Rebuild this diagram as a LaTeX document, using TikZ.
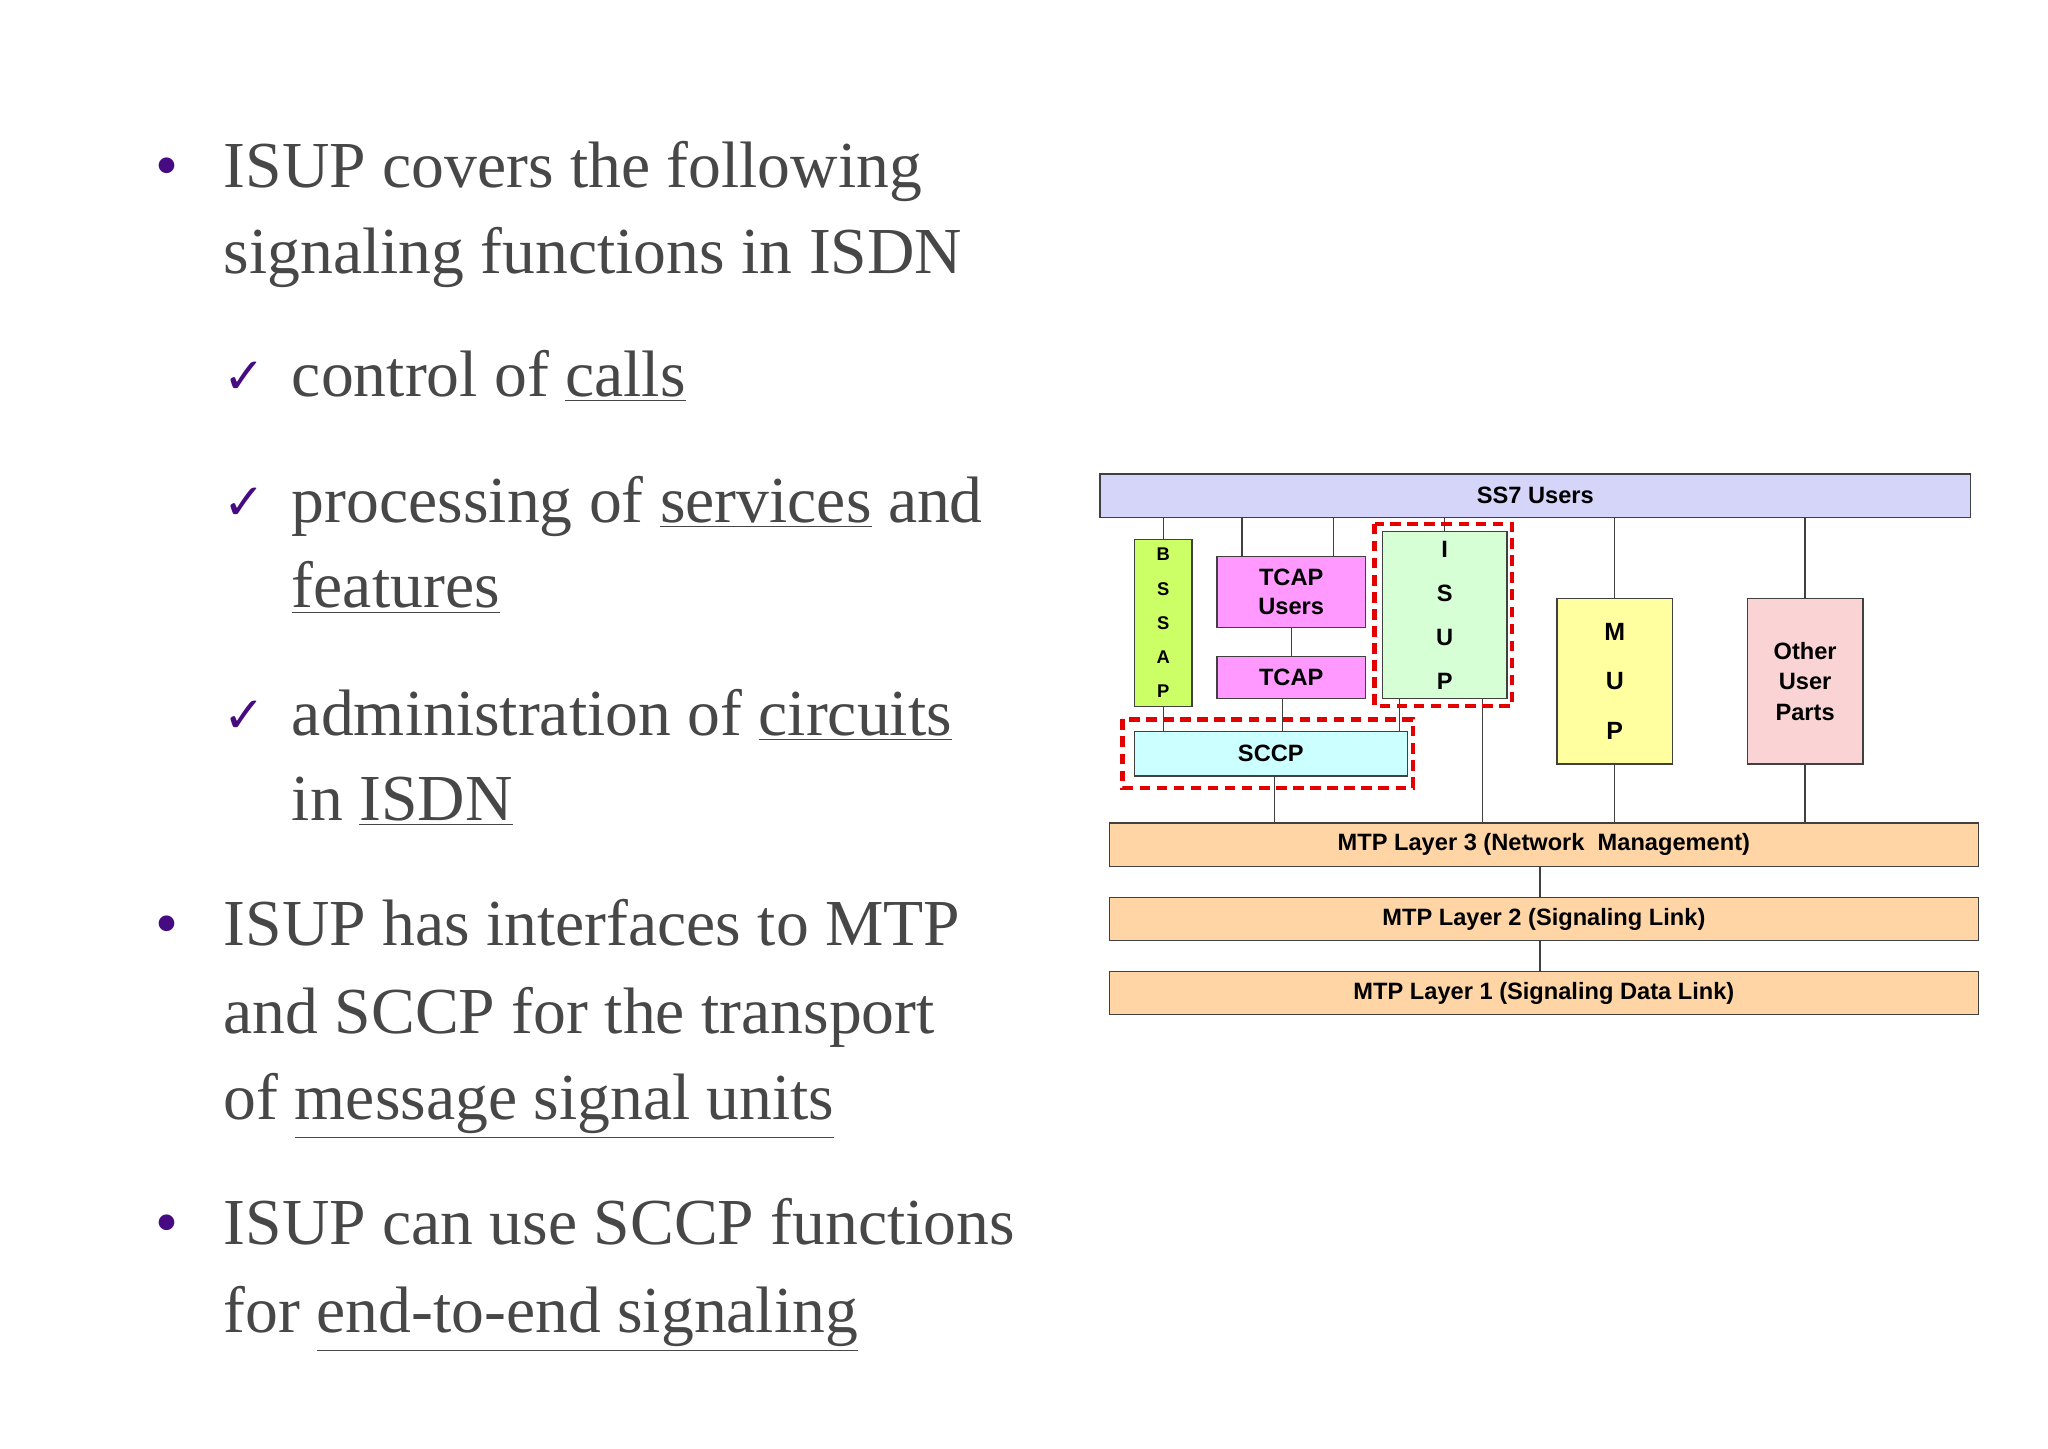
\documentclass[tikz,border=0pt]{standalone}
\usepackage{fontspec}
\setmainfont{Liberation Serif}
\newfontfamily\sansb{Liberation Sans}[FakeBold=0]
\newfontfamily\djv{DejaVu Sans}
\begin{document}
\begin{tikzpicture}[x=0.5pt,y=-0.5pt,
  txt/.style={anchor=base west,inner sep=0pt,text=black!72,font=\fontsize{25}{30}\selectfont},
  bul/.style={anchor=base west,inner sep=0pt,text={rgb,255:red,70;green,10;blue,130},font=\fontsize{25}{30}\selectfont},
  chk/.style={anchor=base west,inner sep=0pt,text={rgb,255:red,70;green,10;blue,130},font=\djv\bfseries\fontsize{19}{22}\selectfont},
  box/.style={draw=black!75,line width=0.5pt,inner sep=0pt,align=center,font=\sansb\bfseries\fontsize{9}{11}\selectfont},
  conn/.style={draw=black!75,line width=0.5pt},
  reddash/.style={draw=red!90!black,line width=1.6pt,dash pattern=on 4pt off 2.5pt}]
\useasboundingbox (0,0) rectangle (1560,1103);
\fill[white] (0,0) rectangle (1560,1103);
% text
\node[bul] (b1) at (118,143) {\textbullet};
\node[txt] (t1) at (170,143) {ISUP covers the following};
\node[txt] (t2) at (170,208) {signaling functions in ISDN};
\node[chk] (c1) at (170,300) {✓};
\node[txt] (t3) at (222,302) {control of \underline{calls}};
\node[chk] (c2) at (170,396) {✓};
\node[txt] (t4) at (222,398) {processing of \underline{services} and};
\node[txt] (t5) at (222,463) {\underline{features}};
\node[chk] (c3) at (170,558) {✓};
\node[txt] (t6) at (222,560) {administration of \underline{circuits}};
\node[txt] (t7) at (222,625) {in \underline{ISDN}};
\node[bul] (b2) at (118,720) {\textbullet};
\node[txt] (t8) at (170,720) {ISUP has interfaces to MTP};
\node[txt] (t9) at (170,787) {and SCCP for the transport};
\node[txt] (t10) at (170,853) {of \underline{message signal units}};
\node[bul] (b3) at (118,948) {\textbullet};
\node[txt] (t11) at (170,948) {ISUP can use SCCP functions};
\node[txt] (t12) at (170,1015) {for \underline{end-to-end signaling}};
% diagram
\node[box,fill={rgb,255:red,213;green,213;blue,250},minimum width=331.5pt,minimum height=16.5pt] (ss7) at (1169.5,377.5) {SS7 Users};
\node[box,fill={rgb,255:red,204;green,255;blue,102},minimum width=22pt,minimum height=63.5pt,font=\sansb\bfseries\fontsize{7}{13}\selectfont] (bssap) at (886,474.5) {B\\S\\S\\A\\P};
\node[box,fill={rgb,255:red,255;green,153;blue,255},minimum width=56.5pt,minimum height=27pt] (tcapu) at (983.5,451) {TCAP\\Users};
\node[box,fill={rgb,255:red,255;green,153;blue,255},minimum width=56.5pt,minimum height=16pt] (tcap) at (983.5,516) {TCAP};
\node[box,fill={rgb,255:red,214;green,255;blue,214},minimum width=47.5pt,minimum height=63.5pt,font=\sansb\bfseries\fontsize{9}{16.75}\selectfont] (isup) at (1100.5,468.5) {I\\S\\U\\P};
\node[box,fill={rgb,255:red,255;green,255;blue,160},minimum width=44pt,minimum height=63pt,font=\sansb\bfseries\fontsize{9.5}{19}\selectfont] (mup) at (1230,519) {M\\U\\P};
\node[box,fill={rgb,255:red,250;green,212;blue,212},minimum width=44pt,minimum height=63pt,font=\sansb\bfseries\fontsize{9}{11.5}\selectfont] (other) at (1375,519) {Other\\User\\Parts};
\node[box,fill={rgb,255:red,204;green,255;blue,255},minimum width=104pt,minimum height=17pt] (sccp) at (968,574) {SCCP};
\node[box,fill={rgb,255:red,255;green,213;blue,165},minimum width=331pt,minimum height=16.5pt] (mtp3) at (1176,643.5) {MTP Layer 3 (Network\ \ Management)};
\node[box,fill={rgb,255:red,255;green,213;blue,165},minimum width=331pt,minimum height=16.5pt] (mtp2) at (1176,700) {MTP Layer 2 (Signaling Link)};
\node[box,fill={rgb,255:red,255;green,213;blue,165},minimum width=331pt,minimum height=16.5pt] (mtp1) at (1176,756.5) {MTP Layer 1 (Signaling Data Link)};
% connectors
\draw[conn] (bssap.north) -- (bssap.north |- ss7.south);
\draw[conn] ([xshift=-18.75pt]tcapu.north) -- ([xshift=-18.75pt]tcapu.north |- ss7.south);
\draw[conn] ([xshift=16.25pt]tcapu.north) -- ([xshift=16.25pt]tcapu.north |- ss7.south);
\draw[conn] (isup.north) -- (isup.north |- ss7.south);
\draw[conn] (mup.north) -- (mup.north |- ss7.south);
\draw[conn] (other.north) -- (other.north |- ss7.south);
\draw[conn] (tcapu.south) -- (tcap.north);
\draw[conn] ([xshift=-3.25pt]tcap.south) -- ([xshift=-3.25pt]tcap.south |- sccp.north);
\draw[conn] (bssap.south) -- (bssap.south |- sccp.north);
\draw[conn] ([xshift=-17.25pt]isup.south) -- ([xshift=-17.25pt]isup.south |- sccp.north);
\draw[conn] ([xshift=14.25pt]isup.south) -- ([xshift=14.25pt]isup.south |- mtp3.north);
\draw[conn] ([xshift=1.5pt]sccp.south) -- ([xshift=1.5pt]sccp.south |- mtp3.north);
\draw[conn] (mup.south) -- (mup.south |- mtp3.north);
\draw[conn] (other.south) -- (other.south |- mtp3.north);
\draw[conn] ([xshift=-1.5pt]mtp3.south) -- ([xshift=-1.5pt]mtp2.north);
\draw[conn] ([xshift=-1.5pt]mtp2.south) -- ([xshift=-1.5pt]mtp1.north);
% highlights
\draw[reddash] (1047,399) rectangle (1152,538);
\draw[reddash] (855,548) rectangle (1076,600);
\end{tikzpicture}
\end{document}
